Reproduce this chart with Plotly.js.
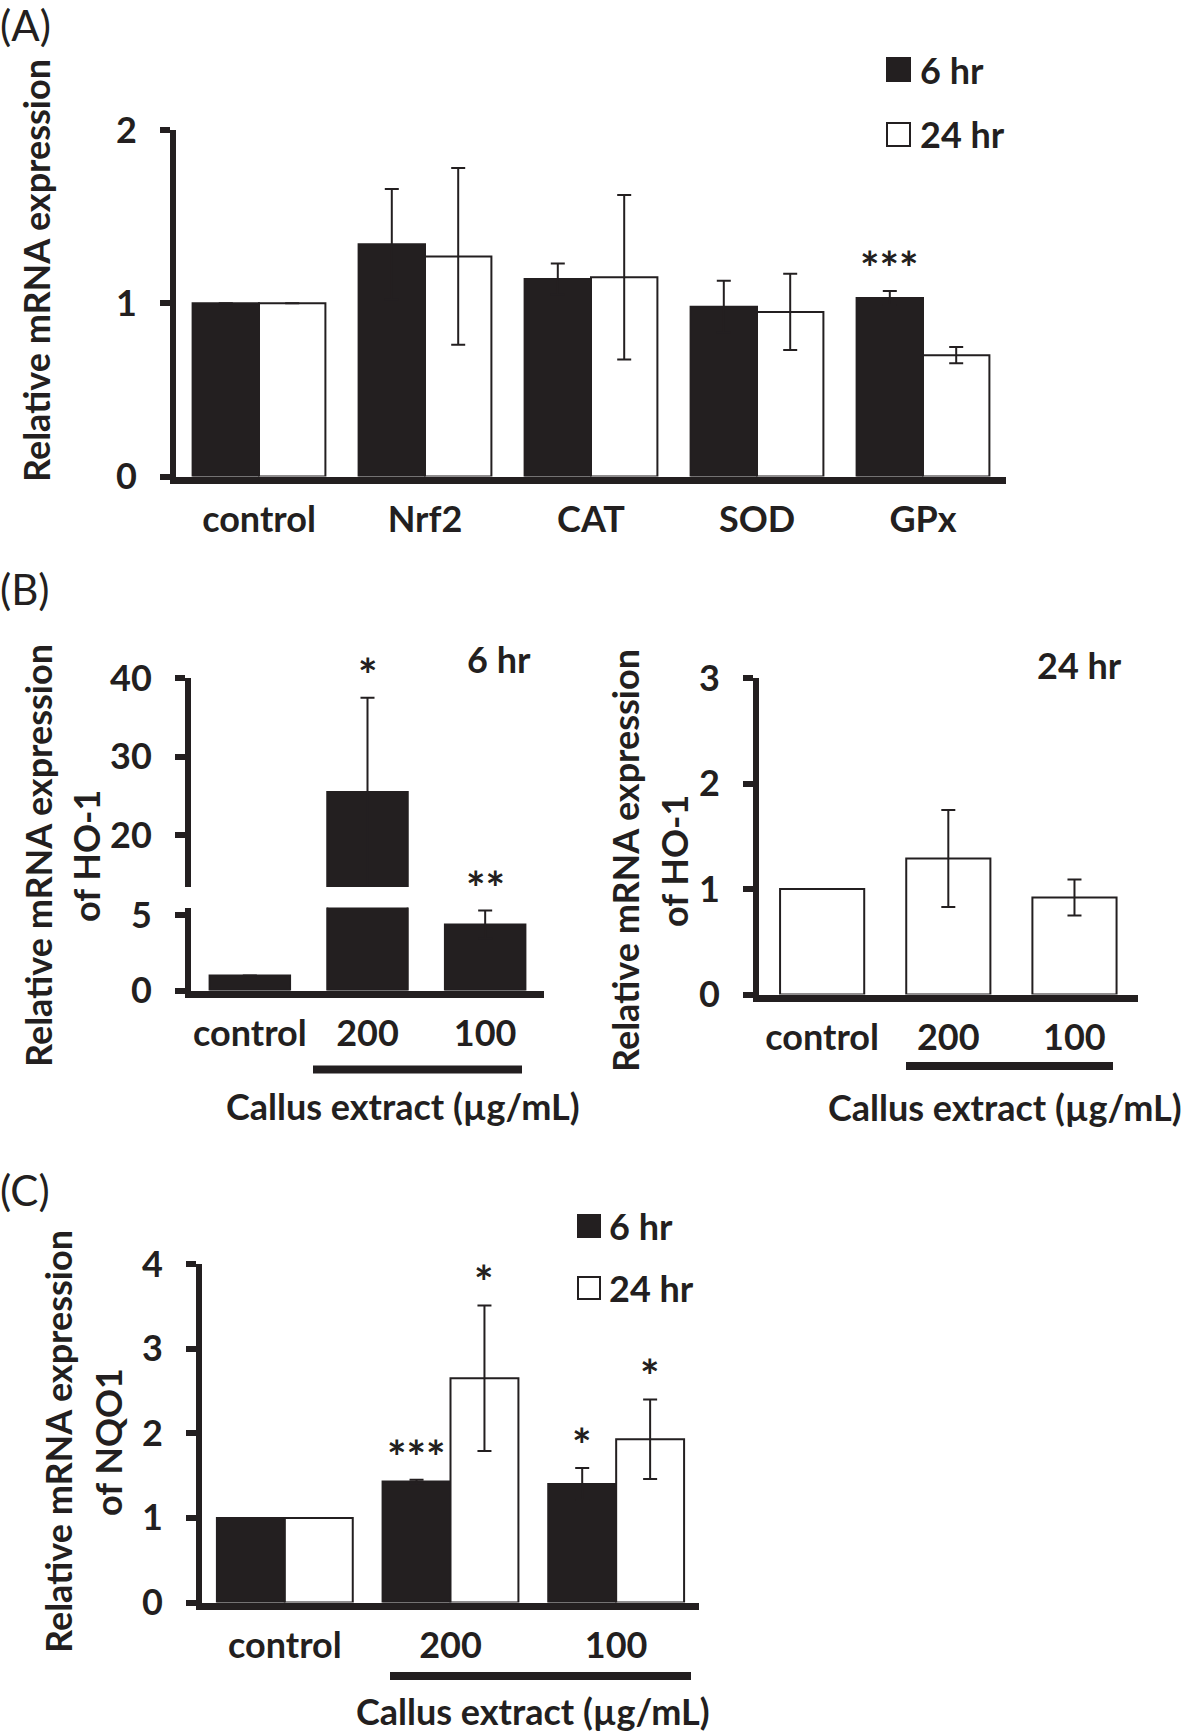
<!DOCTYPE html>
<html>
<head>
<meta charset="utf-8">
<script src="https://cdn.plot.ly/plotly-3.0.1.min.js"></script>
<style>
  body { margin: 0; background: #fff; }
  #chart { width: 1181px; height: 1733px; }
</style>
</head>
<body>
<div id="chart"></div>
<script>
/* ---------------- values ---------------- */
// (A) antioxidant genes
var genes = ['control', 'Nrf2', 'CAT', 'SOD', 'GPx'];
var genes6h = [1.0, 1.34, 1.14, 0.98, 1.03];
var genes6hErr = [0, 0.32, 0.09, 0.15, 0.04];
var genes6hStars = ['', '', '', '', '***'];
var genes24h = [1.0, 1.27, 1.15, 0.95, 0.70];
var genes24hErr = [0, 0.51, 0.475, 0.22, 0.047];

// (B) HO-1, callus extract doses
var doses = ['control', '200', '100'];
var ho1_6h = [1.0, 25.5, 4.37];
var ho1_6hErr = [0, 12.0, 0.93];
var ho1_6hStars = ['', '*', '**'];
var ho1_24h = [1.0, 1.29, 0.92];
var ho1_24hErr = [0, 0.46, 0.17];

// (C) NQO1
var nqo1_6h = [1.0, 1.43, 1.40];
var nqo1_6hErr = [0, 0.02, 0.19];
var nqo1_6hStars = ['', '***', '*'];
var nqo1_24h = [1.0, 2.65, 1.93];
var nqo1_24hErr = [0, 0.86, 0.47];
var nqo1_24hStars = ['', '*', '*'];

/* ---------------- helpers ---------------- */
var W = 1181, H = 1733;
var INK = '#231f20';
var FONT = 'Lato, "Open Sans", sans-serif';
var BOLD = {family: FONT, size: 36, color: INK, weight: 700};
var STAR = {family: FONT, size: 46, color: INK, weight: 700};
var LETTER = {family: FONT, size: 42, color: INK};

function px(x) { return x / W; }        // pixel -> paper x
function py(y) { return 1 - y / H; }    // pixel -> paper y

function yAxis(top, bottom, range, ticks, anchor) {
  return {
    domain: [py(bottom), py(top)], range: range, anchor: anchor,
    tickmode: 'array', tickvals: ticks,
    showline: true, linewidth: 6, linecolor: INK,
    ticks: 'outside', ticklen: 10, tickwidth: 6, tickcolor: INK,
    showgrid: false, zeroline: false, fixedrange: true,
    tickfont: BOLD, ticklabelstandoff: 16
  };
}

function xAxis(left, right, n, anchor) {
  return {
    domain: [px(left), px(right)], anchor: anchor, type: 'category',
    range: [-0.5, n - 0.5],
    showline: true, linewidth: 7, linecolor: INK, ticks: '',
    showgrid: false, zeroline: false, fixedrange: true,
    tickfont: BOLD, ticklabelstandoff: 5
  };
}

function bars(x, y, err, fill, xa, ya, offset, width) {
  return {
    type: 'bar', x: x, y: y, xaxis: xa, yaxis: ya,
    offset: offset, width: width,
    marker: {color: fill, line: {color: INK, width: 2}},
    error_y: {type: 'data', array: err, visible: true, color: INK, thickness: 2, width: 7},
    hoverinfo: 'skip'
  };
}

//significance stars sit above the error bar of their bar
function stars(labels, vals, errs, xref, yref, shift) {
  var out = [];
  for (var i = 0; i < labels.length; i++) {
    if (!labels[i]) continue;
    out.push({
      xref: xref, yref: yref, x: i + shift, y: vals[i] + errs[i],
      text: labels[i], showarrow: false, yanchor: 'bottom', yshift: -6,
      font: STAR
    });
  }
  return out;
}

function label(text, x, y, opts) {
  var a = {xref: 'paper', yref: 'paper', x: px(x), y: py(y), text: text,
           showarrow: false, xanchor: 'center', yanchor: 'middle', font: BOLD};
  for (var k in opts) a[k] = opts[k];
  return a;
}

/* ---------------- traces ---------------- */
var data = [
  // (A)
  bars(genes, genes6h, genes6hErr, INK, 'x', 'y', -0.4, 0.4),
  bars(genes, genes24h, genes24hErr, '#ffffff', 'x', 'y', 0, 0.4),
  // (B) 6 hr, broken axis: lower and upper part
  bars(doses, ho1_6h, ho1_6hErr, INK, 'x2', 'y2', -0.342, 0.684),
  bars(doses, ho1_6h, ho1_6hErr, INK, 'x2', 'y3', -0.342, 0.684),
  // (B) 24 hr
  bars(doses, ho1_24h, ho1_24hErr, '#ffffff', 'x3', 'y4', -0.333, 0.667),
  // (C)
  bars(doses, nqo1_6h, nqo1_6hErr, INK, 'x4', 'y5', -0.41, 0.41),
  bars(doses, nqo1_24h, nqo1_24hErr, '#ffffff', 'x4', 'y5', 0, 0.41)
];

/* ---------------- annotations & decorations ---------------- */
var annotations = []
  .concat(stars(genes6hStars, genes6h, genes6hErr, 'x', 'y', -0.2))
  .concat(stars(['', '*', ''], ho1_6h, ho1_6hErr, 'x2', 'y3', 0))
  .concat(stars(['', '', '**'], ho1_6h, ho1_6hErr, 'x2', 'y2', 0))
  .concat(stars(nqo1_6hStars, nqo1_6h, nqo1_6hErr, 'x4', 'y5', -0.205))
  .concat(stars(nqo1_24hStars, nqo1_24h, nqo1_24hErr, 'x4', 'y5', 0.205));

annotations.push(
  // panel letters
  label('(A)', -2, 25, {xanchor: 'left', font: LETTER}),
  label('(B)', -2, 589, {xanchor: 'left', font: LETTER}),
  label('(C)', -2, 1190, {xanchor: 'left', font: LETTER}),
  // y titles
  label('Relative mRNA expression', 36, 271, {textangle: -90}),
  label('Relative mRNA expression', 38, 856, {textangle: -90}),
  label('of HO-1', 86, 856, {textangle: -90}),
  label('Relative mRNA expression', 625, 861, {textangle: -90}),
  label('of HO-1', 674, 861, {textangle: -90}),
  label('Relative mRNA expression', 58, 1442, {textangle: -90}),
  label('of NQO1', 108, 1442, {textangle: -90}),
  // time labels in (B)
  label('6 hr', 499, 659),
  label('24 hr', 1079, 665),
  // dose group titles
  label('Callus extract (µg/mL)', 224, 1106, {xanchor: 'left'}),
  label('Callus extract (µg/mL)', 826, 1107, {xanchor: 'left'}),
  label('Callus extract (µg/mL)', 354, 1711, {xanchor: 'left'}),
  // legends
  label('6 hr', 918, 70, {xanchor: 'left'}),
  label('24 hr', 918, 134.5, {xanchor: 'left'}),
  label('6 hr', 607, 1226, {xanchor: 'left'}),
  label('24 hr', 607, 1288, {xanchor: 'left'})
);

function box(x0, y0, x1, y1, fill) {
  return {type: 'rect', xref: 'paper', yref: 'paper',
          x0: px(x0), x1: px(x1), y0: py(y1), y1: py(y0),
          fillcolor: fill, line: {color: INK, width: 2}};
}
function rule(x0, x1, y) {
  return {type: 'line', xref: 'paper', yref: 'paper',
          x0: px(x0), x1: px(x1), y0: py(y), y1: py(y),
          line: {color: INK, width: 8}};
}

var shapes = [
  box(887, 58, 910, 81, INK), box(887, 123, 910, 146, '#ffffff'),
  box(578, 1215, 600, 1237, INK), box(578, 1277, 600, 1299, '#ffffff'),
  rule(313, 522, 1069.5), rule(906, 1113, 1066), rule(390, 691, 1676)
];

/* ---------------- layout ---------------- */
var layout = {
  width: W, height: H,
  margin: {l: 0, r: 0, t: 0, b: 0},
  paper_bgcolor: '#ffffff', plot_bgcolor: 'rgba(0,0,0,0)',
  showlegend: false, barmode: 'overlay',
  font: {family: FONT, color: INK},
  // (A)
  xaxis: xAxis(176, 1006, genes.length, 'y'),
  yaxis: yAxis(130, 476.5, [0, 2], [0, 1, 2], 'x'),
  // (B) 6 hr
  xaxis2: xAxis(191, 544, doses.length, 'y2'),
  yaxis2: yAxis(907.5, 990.5, [0, 5.5], [0, 5], 'x2'),
  yaxis3: yAxis(678, 887, [13.4, 40], [20, 30, 40], 'x2'),
  // (B) 24 hr
  xaxis3: xAxis(759, 1137.5, doses.length, 'y4'),
  yaxis4: yAxis(678, 994.5, [0, 3], [0, 1, 2, 3], 'x3'),
  // (C)
  xaxis4: xAxis(202, 699, doses.length, 'y5'),
  yaxis5: yAxis(1264, 1602.5, [0, 4], [0, 1, 2, 3, 4], 'x4'),
  annotations: annotations,
  shapes: shapes
};

Plotly.newPlot('chart', data, layout, {staticPlot: true, displayModeBar: false});
</script>
</body>
</html>
